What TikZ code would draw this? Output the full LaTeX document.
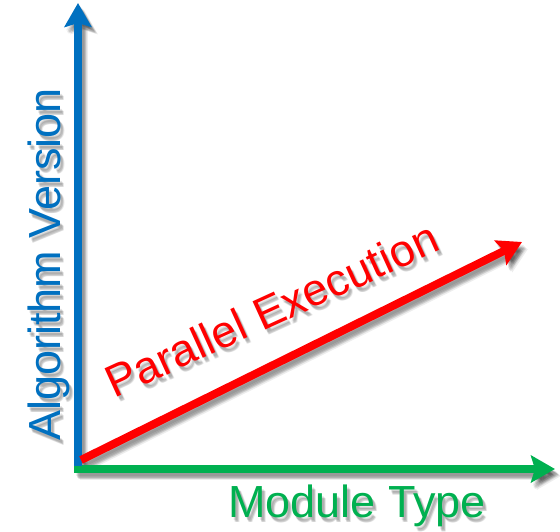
\documentclass[tikz,border=0pt]{standalone}
\usepackage{fontspec}
\setmainfont{Liberation Sans}
\usetikzlibrary{arrows.meta}
\definecolor{axblue}{HTML}{0070C0}
\definecolor{axred}{HTML}{FF0000}
\definecolor{axgreen}{HTML}{00B050}
\tikzset{
  axis/.style={line width=8pt, -{Stealth[length=24pt,width=27pt,inset=4pt]}},
  lbl/.style={font=\fontsize{45}{50}\selectfont, inner sep=0pt},
}
% #1 blue, #2 red, #3 green, #4 name prefix
\newcommand\axeslines[4]{%
  \coordinate (#4vb) at (78,466);
  \coordinate (#4vt) at (78,3);
  \coordinate (#4hb) at (74,469);
  \coordinate (#4ht) at (555,469);
  \coordinate (#4rb) at (81,460);
  \coordinate (#4rt) at (522,242);
  \draw[axis, #3] (#4hb) -- (#4ht);
  \draw[axis, #1] (#4vb) -- (#4vt);
  \draw[axis, #2] (#4rb) -- (#4rt);
}
\newcommand\axeslabels[4]{%
  \node[lbl, text=#1, rotate=90, anchor=base west] (#4av) at (60,441) {Algorithm Version};
  \node[lbl, text=#3, anchor=base west] (#4mt) at (228,517) {Module Type};
  \node[lbl, text=#2, rotate=24.5, anchor=base west] (#4pe) at (114,399) {Parallel Execution};
}
\begin{document}
\begin{tikzpicture}[x=1pt,y=-1pt]
  \useasboundingbox (0,0) rectangle (560,531);
  \foreach \dx/\dy in {2/3,3/4,4/5,5/6,6/7,4/6,3/5} {
    \begin{scope}[shift={(\dx,\dy)}, opacity=0.07]
      \axeslines{black}{black}{black}{s}
    \end{scope}
  }
  \foreach \dx/\dy in {2/3,3/4,4/5,3/5} {
    \begin{scope}[shift={(\dx,\dy)}, opacity=0.09]
      \axeslabels{black}{black}{black}{s}
    \end{scope}
  }
  \axeslines{axblue}{axred}{axgreen}{}
  \axeslabels{axblue}{axred}{axgreen}{}
\end{tikzpicture}
\end{document}
